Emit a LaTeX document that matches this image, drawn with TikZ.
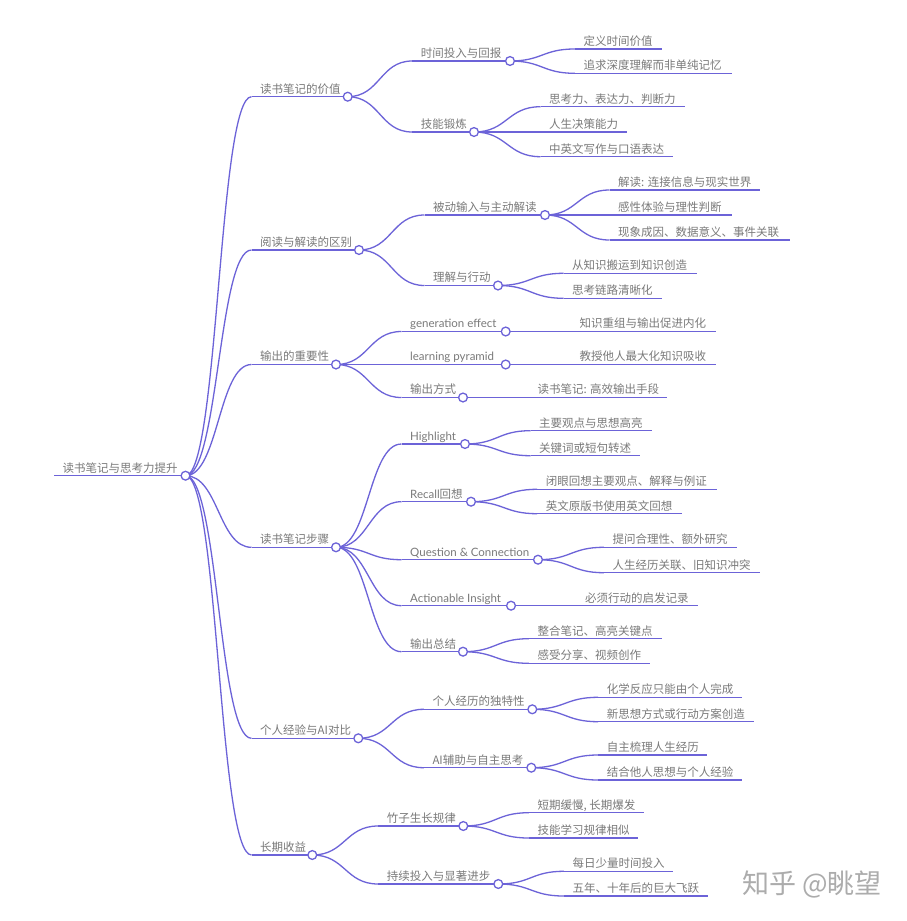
\documentclass[tikz,border=0pt]{standalone}
\usepackage{fontspec}
\newfontfamily\cjk{Noto Sans CJK SC}
\newfontfamily\lato{Lato}
\usetikzlibrary{calc}
\definecolor{mmline}{RGB}{108,99,216}
\definecolor{mmtext}{RGB}{122,122,122}
\definecolor{wmark}{RGB}{172,172,172}
\newcommand\mmnode[5]{%
  \coordinate (#1-s) at ({#2-8.5},#3);
  \coordinate (#1-e) at (#4,#3);
  \node[lbl] (#1) at (#2,{#3-3.7}) {#5};
  \draw[edge] (#1-s) -- (#1-e);
}
\newcommand\mmlink[2]{%
  \draw[edge] let \p1=(#1-e), \p2=(#2-s) in
    (\p1) .. controls ({(\x1+\x2)/2},\y1) and ({(\x1+\x2)/2},\y2) .. (\p2);
}
\begin{document}
\begin{tikzpicture}[x=1pt,y=-1pt,
  edge/.style={draw=mmline,line width=1.3pt},
  lbl/.style={anchor=base west,inner sep=0pt,text=mmtext,font=\cjk\fontsize{11.5}{13}\selectfont},
  dot/.style={circle,draw=mmline,fill=white,line width=1.3pt,minimum size=8.8pt,inner sep=0pt}]
\fill[white] (0,0) rectangle (906,921);
\useasboundingbox (0,0) rectangle (906,921);

% root
\mmnode{R}{62.5}{475.7}{185.5}{读书笔记与思考力提升}

% level 1
\mmnode{A}{260}{96.7}{347.7}{读书笔记的价值}
\mmnode{B}{260}{250}{359}{阅读与解读的区别}
\mmnode{C}{260}{364.5}{336}{输出的重要性}
\mmnode{D}{260}{547.3}{336}{读书笔记步骤}
\mmnode{E}{260}{738.3}{358.3}{个人经验与AI对比}
\mmnode{F}{260}{855}{312.3}{长期收益}

% level 2
\mmnode{A1}{420.7}{61}{510}{时间投入与回报}
\mmnode{A2}{420.7}{132}{474}{技能锻炼}
\mmnode{B1}{433}{215}{545}{被动输入与主动解读}
\mmnode{B2}{433}{285.5}{498}{理解与行动}
\mmnode{C1}{410}{331.5}{505.7}{{\lato generation effect}}
\mmnode{C2}{410}{364.5}{505.7}{{\lato learning pyramid}}
\mmnode{C3}{410}{397.5}{463}{输出方式}
\mmnode{D1}{410}{444}{465}{{\lato Highlight}}
\mmnode{D2}{410}{501.7}{471}{{\lato Recall}回想}
\mmnode{D3}{410}{559.7}{538}{{\lato Question \& Connection}}
\mmnode{D4}{410}{605.7}{511}{{\lato Actionable Insight}}
\mmnode{D5}{410}{651.7}{463}{输出总结}
\mmnode{E1}{432.3}{709.3}{532.3}{个人经历的独特性}
\mmnode{E2}{432.3}{767.7}{531.3}{AI辅助与自主思考}
\mmnode{F1}{386.7}{826}{463.3}{竹子生长规律}
\mmnode{F2}{386.7}{884}{498.3}{持续投入与显著进步}

% level 3
\mmnode{A11}{583.3}{49}{662}{定义时间价值}
\mmnode{A12}{583.3}{73.3}{731.7}{追求深度理解而非单纯记忆}
\mmnode{A21}{549}{106.7}{685.3}{思考力、表达力、判断力}
\mmnode{A22}{549}{132}{626.7}{人生决策能力}
\mmnode{A23}{549}{156.7}{673.3}{中英文写作与口语表达}
\mmnode{B11}{618}{190}{760}{解读: 连接信息与现实世界}
\mmnode{B12}{618}{215}{732}{感性体验与理性判断}
\mmnode{B13}{618}{240}{789.5}{现象成因、数据意义、事件关联}
\mmnode{B21}{572}{273.3}{697}{从知识搬运到知识创造}
\mmnode{B22}{572}{298.3}{662}{思考链路清晰化}
\mmnode{C11}{579.5}{331.5}{715.7}{知识重组与输出促进内化}
\mmnode{C21}{579.5}{364.5}{715.7}{教授他人最大化知识吸收}
\mmnode{C31}{537.3}{397.5}{667}{读书笔记: 高效输出手段}
\mmnode{D11}{539}{430.7}{651.7}{主要观点与思想高亮}
\mmnode{D12}{539}{455.7}{640}{关键词或短句转述}
\mmnode{D21}{545.7}{489.3}{716.7}{闭眼回想主要观点、解释与例证}
\mmnode{D22}{545.7}{513.7}{681.7}{英文原版书使用英文回想}
\mmnode{D31}{612.3}{547.3}{736.7}{提问合理性、额外研究}
\mmnode{D32}{612.3}{572.7}{760}{人生经历关联、旧知识冲突}
\mmnode{D41}{585}{605.7}{698.3}{必须行动的启发记录}
\mmnode{D51}{537.3}{638.7}{662}{整合笔记、高亮关键点}
\mmnode{D52}{537.3}{663.3}{650}{感受分享、视频创作}
\mmnode{E11}{606.7}{697.3}{742}{化学反应只能由个人完成}
\mmnode{E12}{606.7}{721.7}{754}{新思想方式或行动方案创造}
\mmnode{E21}{606.7}{755}{706.7}{自主梳理人生经历}
\mmnode{E22}{606.7}{780}{741.7}{结合他人思想与个人经验}
\mmnode{F11}{537.3}{812.7}{644.3}{短期缓慢, 长期爆发}
\mmnode{F12}{537.3}{838}{638.3}{技能学习规律相似}
\mmnode{F21}{572.3}{871.3}{672.7}{每日少量时间投入}
\mmnode{F22}{572.3}{896}{708.3}{五年、十年后的巨大飞跃}

% links
\foreach \c in {A,B,C,D,E,F} {\mmlink{R}{\c}}
\mmlink{A}{A1}\mmlink{A}{A2}
\mmlink{B}{B1}\mmlink{B}{B2}
\mmlink{C}{C1}\mmlink{C}{C2}\mmlink{C}{C3}
\foreach \c in {D1,D2,D3,D4,D5} {\mmlink{D}{\c}}
\mmlink{E}{E1}\mmlink{E}{E2}
\mmlink{F}{F1}\mmlink{F}{F2}
\mmlink{A1}{A11}\mmlink{A1}{A12}
\mmlink{A2}{A21}\mmlink{A2}{A22}\mmlink{A2}{A23}
\mmlink{B1}{B11}\mmlink{B1}{B12}\mmlink{B1}{B13}
\mmlink{B2}{B21}\mmlink{B2}{B22}
\mmlink{C1}{C11}\mmlink{C2}{C21}\mmlink{C3}{C31}
\mmlink{D1}{D11}\mmlink{D1}{D12}
\mmlink{D2}{D21}\mmlink{D2}{D22}
\mmlink{D3}{D31}\mmlink{D3}{D32}
\mmlink{D4}{D41}
\mmlink{D5}{D51}\mmlink{D5}{D52}
\mmlink{E1}{E11}\mmlink{E1}{E12}
\mmlink{E2}{E21}\mmlink{E2}{E22}
\mmlink{F1}{F11}\mmlink{F1}{F12}
\mmlink{F2}{F21}\mmlink{F2}{F22}

% circles on branching nodes
\foreach \c in {R,A,B,C,D,E,F,A1,A2,B1,B2,C1,C2,C3,D1,D2,D3,D4,D5,E1,E2,F1,F2}
  {\node[dot] (\c-c) at (\c-e) {};}

% watermark
\node[anchor=center,inner sep=0pt,text=wmark,font=\cjk\fontsize{27}{30}\selectfont] (wm) at (812,884) {知乎 @眺望};
\end{tikzpicture}
\end{document}
